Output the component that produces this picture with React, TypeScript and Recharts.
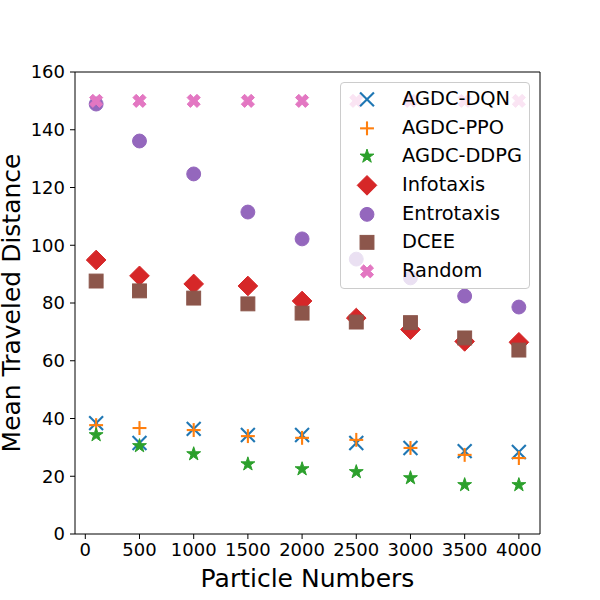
import React from "react";
import {
    ScatterChart,
    Scatter,
    XAxis,
    YAxis,
    Legend,
    ReferenceLine,
    Label
} from "recharts";

const particles = [100, 500, 1000, 1500, 2000, 2500, 3000, 3500, 4000];

const agdcDqn = [38.4, 31.5, 36.4, 34.3, 34.3, 31.5, 29.8, 28.7, 28.4];
const agdcPpo = [37.7, 36.7, 36.0, 33.9, 33.3, 32.6, 29.8, 27.4, 26.3];
const agdcDdpg = [34.3, 30.5, 27.7, 24.2, 22.5, 21.5, 19.4, 17.0, 17.0];
const infotaxis = [94.9, 89.4, 86.6, 85.9, 80.7, 74.8, 70.8, 66.7, 66.4];
const entrotaxis = [148.9, 136.1, 124.7, 111.5, 102.2, 95.2, 88.7, 82.4, 78.6];
const dcee = [87.6, 84.2, 81.7, 79.7, 76.5, 73.4, 73.2, 67.9, 63.7];
const random = [150, 150, 150, 150, 150, 150, 150, 150, 150];

const xTicks = [0, 500, 1000, 1500, 2000, 2500, 3000, 3500, 4000];
const yTicks = [0, 20, 40, 60, 80, 100, 120, 140, 160];

const FONT = "'DejaVu Sans', sans-serif";

type MarkerKind = "x" | "plus" | "star" | "diamond" | "circle" | "square" | "xfilled";

// matplotlib scatter s=100 -> 10pt marker at 100 dpi
const MS = 13.9;

function xFilledPoints(cx: number, cy: number) {
    const base = [
        [-1, -3], [1, -3], [1, -1], [3, -1], [3, 1], [1, 1],
        [1, 3], [-1, 3], [-1, 1], [-3, 1], [-3, -1], [-1, -1]
    ];
    const c = Math.SQRT1_2;
    return base
        .map(([px, py]) => {
            const ux = (px / 6) * MS;
            const uy = (py / 6) * MS;
            return `${cx + (ux * c - uy * c)},${cy + (ux * c + uy * c)}`;
        })
        .join(" ");
}

function starPoints(cx: number, cy: number, r: number) {
    const inner = r * 0.381966;
    const pts: string[] = [];
    for (let i = 0; i < 10; i++) {
        const rad = i % 2 === 0 ? r : inner;
        const a = -Math.PI / 2 + (i * Math.PI) / 5;
        pts.push(`${cx + rad * Math.cos(a)},${cy + rad * Math.sin(a)}`);
    }
    return pts.join(" ");
}

function renderMarker(kind: MarkerKind, color: string, cx: number, cy: number) {
    const h = MS / 2;
    switch (kind) {
        case "x":
            return (
                <g>
                    <line x1={cx - h} y1={cy - h} x2={cx + h} y2={cy + h} stroke={color} strokeWidth={2.1} />
                    <line x1={cx - h} y1={cy + h} x2={cx + h} y2={cy - h} stroke={color} strokeWidth={2.1} />
                </g>
            );
        case "plus":
            return (
                <g>
                    <line x1={cx - h} y1={cy} x2={cx + h} y2={cy} stroke={color} strokeWidth={2.1} />
                    <line x1={cx} y1={cy - h} x2={cx} y2={cy + h} stroke={color} strokeWidth={2.1} />
                </g>
            );
        case "star":
            return <polygon points={starPoints(cx, cy, h * 1.05)} fill={color} stroke={color} strokeWidth={1} strokeLinejoin="miter" />;
        case "diamond":
            return (
                <polygon
                    points={`${cx},${cy - h * 1.414} ${cx + h * 1.414},${cy} ${cx},${cy + h * 1.414} ${cx - h * 1.414},${cy}`}
                    fill={color}
                    stroke={color}
                    strokeWidth={1}
                />
            );
        case "circle":
            return <circle cx={cx} cy={cy} r={h} fill={color} stroke={color} strokeWidth={1} />;
        case "square":
            return <rect x={cx - h} y={cy - h} width={MS} height={MS} fill={color} stroke={color} strokeWidth={1} />;
        case "xfilled":
            return <polygon points={xFilledPoints(cx, cy)} fill={color} stroke={color} strokeWidth={1} />;
    }
}

const seriesList: { name: string; values: number[]; color: string; kind: MarkerKind }[] = [
    { name: "AGDC-DQN", values: agdcDqn, color: "#1f77b4", kind: "x" },
    { name: "AGDC-PPO", values: agdcPpo, color: "#ff7f0e", kind: "plus" },
    { name: "AGDC-DDPG", values: agdcDdpg, color: "#2ca02c", kind: "star" },
    { name: "Infotaxis", values: infotaxis, color: "#d62728", kind: "diamond" },
    { name: "Entrotaxis", values: entrotaxis, color: "#9467bd", kind: "circle" },
    { name: "DCEE", values: dcee, color: "#8c564b", kind: "square" },
    { name: "Random", values: random, color: "#e377c2", kind: "xfilled" }
];

const LegendBox = () => (
    <div
        style={{
            boxSizing: "border-box",
            width: 190,
            height: 207,
            background: "rgba(255,255,255,0.8)",
            border: "1px solid #cccccc",
            borderRadius: 4,
            paddingTop: 2,
            fontFamily: FONT,
            fontSize: 19.4,
            color: "#000"
        }}
    >
        {seriesList.map(s => (
            <div key={s.name} style={{ height: 28.7, display: "flex", alignItems: "center" }}>
                <svg width={54} height={28.7} style={{ flex: "none" }}>
                    {renderMarker(s.kind, s.color, 26, 14.35)}
                </svg>
                <span style={{ marginLeft: 7, lineHeight: "28.7px", whiteSpace: "nowrap" }}>{s.name}</span>
            </div>
        ))}
    </div>
);

export default function App() {
    return (
        <div style={{ position: "absolute", left: 0, top: 0 }}>
            <ScatterChart width={600} height={600} margin={{ top: 72, right: 60, bottom: 0, left: 0 }}>
                <XAxis
                    type="number"
                    dataKey="x"
                    domain={[-95, 4195]}
                    ticks={xTicks}
                    allowDataOverflow
                    height={66}
                    tickSize={5}
                    tickMargin={4}
                    stroke="#000"
                    tick={{ fontSize: 18, fill: "#000", fontFamily: FONT }}
                >
                    <Label
                        content={() => (
                            <text x={307.5} y={587} textAnchor="middle" fontSize={25} fontFamily={FONT} fill="#000">
                                Particle Numbers
                            </text>
                        )}
                    />
                </XAxis>
                <YAxis
                    type="number"
                    dataKey="y"
                    domain={[0, 160]}
                    ticks={yTicks}
                    allowDataOverflow
                    width={75}
                    tickSize={5}
                    tickMargin={5}
                    stroke="#000"
                    tick={{ fontSize: 18, fill: "#000", fontFamily: FONT }}
                >
                    <Label
                        content={() => (
                            <text
                                x={20}
                                y={303}
                                transform="rotate(-90, 20, 303)"
                                textAnchor="middle"
                                fontSize={25}
                                fontFamily={FONT}
                                fill="#000"
                            >
                                Mean Traveled Distance
                            </text>
                        )}
                    />
                </YAxis>

                <ReferenceLine y={160} stroke="#000" strokeWidth={1} />
                <ReferenceLine x={4195} stroke="#000" strokeWidth={1} />

                {seriesList.map(s => (
                    <Scatter
                        key={s.name}
                        name={s.name}
                        data={particles.map((p, i) => ({ x: p, y: s.values[i] }))}
                        fill={s.color}
                        isAnimationActive={false}
                        shape={(props: any) => renderMarker(s.kind, s.color, props.cx, props.cy)}
                    />
                ))}

                <Legend
                    layout="vertical"
                    align="center"
                    verticalAlign="middle"
                    content={<LegendBox />}
                    wrapperStyle={{ position: "absolute", left: 340, top: 82, width: 190, height: 207 }}
                />
            </ScatterChart>
        </div>
    );
}
